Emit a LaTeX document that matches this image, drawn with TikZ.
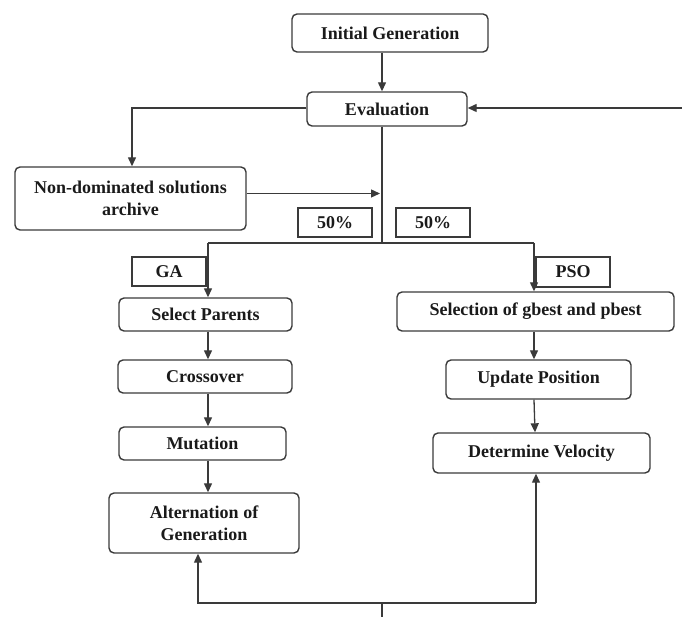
\documentclass[tikz,border=0pt]{standalone}
\usepackage{fontspec}
\setmainfont{Liberation Serif}
\usetikzlibrary{arrows.meta}
\definecolor{ln}{HTML}{3A3A3A}
\definecolor{tx}{HTML}{1A1A1A}
\tikzset{
  box/.style={draw=ln, line width=1.4pt, rounded corners=5pt, align=center, inner sep=0pt,
    text=tx, font=\fontsize{18}{22}\selectfont\bfseries},
  tag/.style={draw=ln, line width=1.4pt, align=center, inner sep=0pt,
    text=tx, font=\fontsize{18}{22}\selectfont\bfseries},
  con/.style={draw=ln, line width=1.3pt},
  arr/.style={con, -{Triangle[length=9pt,width=8pt]}}
}
\begin{document}
\begin{tikzpicture}[x=1pt,y=-1pt]
\useasboundingbox (0,0) rectangle (682,617);
% nodes
\node[box, minimum width=196pt, minimum height=38pt] (init) at (390,33) {Initial Generation};
\node[box, minimum width=160pt, minimum height=34pt] (eval) at (387,109) {Evaluation};
\node[box, minimum width=231pt, minimum height=63pt] (nds) at (130.5,198.5) {Non-dominated solutions\\archive};
\node[tag, minimum width=74pt, minimum height=29pt] (pa) at (335,222.5) {50\%};
\node[tag, minimum width=74pt, minimum height=29pt] (pb) at (433,222.5) {50\%};
\node[tag, minimum width=74pt, minimum height=29pt] (ga) at (169,271.5) {GA};
\node[tag, minimum width=74pt, minimum height=30pt] (pso) at (573,272) {PSO};
\node[box, minimum width=173pt, minimum height=33pt] (sp) at (205.5,314.5) {Select Parents};
\node[box, minimum width=277pt, minimum height=39pt] (sel) at (535.5,311.5) {Selection of gbest and pbest};
\node[box, minimum width=174pt, minimum height=33pt] (cross) at (205,376.5) {Crossover};
\node[box, minimum width=167pt, minimum height=33pt] (mut) at (202.5,443.5) {Mutation};
\node[box, minimum width=190pt, minimum height=60pt] (alt) at (204,523) {Alternation of\\Generation};
\node[box, minimum width=185pt, minimum height=39pt] (upd) at (538.5,379.5) {Update Position};
\node[box, minimum width=217pt, minimum height=40pt] (det) at (541.5,453) {Determine Velocity};
% coordinates
\coordinate (xc) at (382,0);
\coordinate (xl) at (208,0);
\coordinate (xr) at (534,0);
\coordinate (lft) at (132,108);
\coordinate (rin) at (682,108);
\coordinate (split) at (382,243);
\coordinate (sl) at (208,243);
\coordinate (sr) at (534,243);
\coordinate (bot) at (382,617);
\coordinate (bj) at (382,603);
\coordinate (bl) at (198,603);
\coordinate (br) at (536,603);
\coordinate (ndsin) at (380,193.5);
% connectors
\draw[arr] (init.south -| xc) -- (eval.north -| xc);
\draw[arr] (eval.west |- lft) -- (lft) -- (nds.north -| lft);
\draw[arr] (rin) -- (eval.east |- rin);
\draw[con] (eval.south -| xc) -- (split);
\draw[arr] ([yshift=5pt]nds.east) -- (ndsin);
\draw[con] (sl) -- (sr);
\draw[arr] (sl) -- (sp.north -| xl);
\draw[arr] (sr) -- (sel.north -| xr);
\draw[arr] (sp.south -| xl) -- (cross.north -| xl);
\draw[arr] (cross.south -| xl) -- (mut.north -| xl);
\draw[arr] (mut.south -| xl) -- (alt.north -| xl);
\draw[arr] (sel.south -| xr) -- (upd.north -| xr);
\draw[arr] (upd.south -| xr) -- ([xshift=1pt]det.north -| xr);
\draw[con] (bot) -- (bj);
\draw[arr] (br) -- (bl) -- (alt.south -| bl);
\draw[arr] (br) -- (det.south -| br);
\end{tikzpicture}
\end{document}
